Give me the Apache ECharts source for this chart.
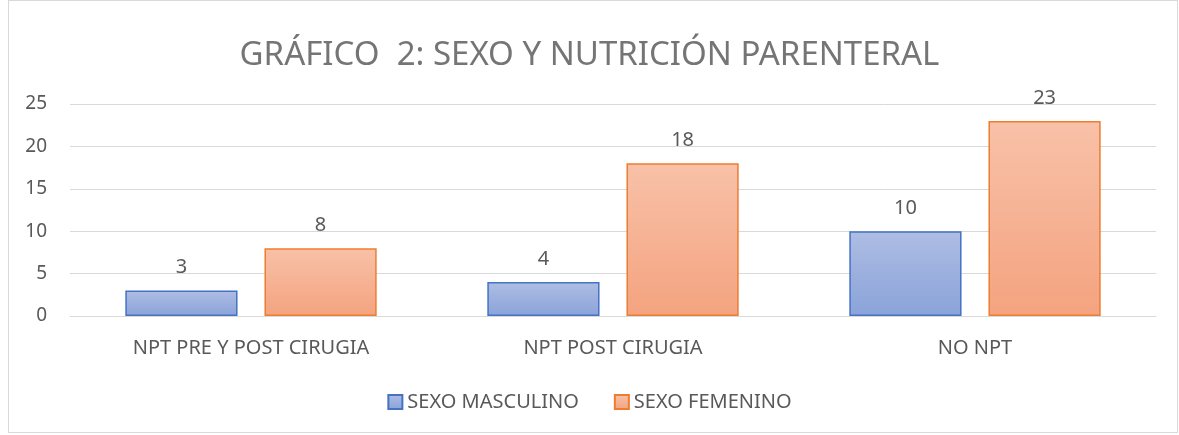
<!DOCTYPE html>
<html>
<head>
<meta charset="utf-8">
<script src="https://cdn.jsdelivr.net/npm/echarts@6/dist/echarts.min.js"></script>
<style>
  html, body { margin: 0; padding: 0; background: #fff; }
  #frame {
    position: absolute; left: 8px; top: 0px; width: 1170px; height: 433px;
    border: 1px solid #d9d9d9; box-sizing: border-box;
  }
  #chart { position: absolute; left: 0; top: 0; width: 1179px; height: 435px; }
</style>
</head>
<body>
<div id="frame"></div>
<div id="chart"></div>
<script>
const categories = ["NPT PRE Y POST CIRUGIA", "NPT POST CIRUGIA", "NO NPT"];
const masculino = [3, 4, 10];
const femenino = [8, 18, 23];
const seriesNames = ["SEXO MASCULINO", "SEXO FEMENINO"];

const font = "Noto Sans";
const textGray = "#595959";

let chart = echarts.init(document.getElementById("chart"));

function grad(top, bottom) {
  return new echarts.graphic.LinearGradient(0, 0, 0, 1, [
    { offset: 0, color: top },
    { offset: 1, color: bottom }
  ]);
}

let option = {
  animation: false,
  title: {
    text: "GRÁFICO  2: SEXO Y NUTRICIÓN PARENTERAL",
    left: "center",
    top: 34,
    textStyle: { color: "#757575", fontSize: 33, fontWeight: "normal", fontFamily: font }
  },
  legend: {
    bottom: 18,
    left: "center",
    icon: "rect",
    itemWidth: 14,
    itemHeight: 14,
    itemGap: 35,
    textStyle: { color: textGray, fontSize: 20, fontFamily: font },
    data: seriesNames
  },
  grid: { left: 70, right: 23, top: 104, bottom: 119, containLabel: false },
  xAxis: {
    type: "category",
    data: categories,
    axisLine: { lineStyle: { color: "#d9d9d9", width: 1 } },
    axisTick: { show: false },
    axisLabel: { color: textGray, fontSize: 20, fontFamily: font, margin: 22 }
  },
  yAxis: {
    type: "value",
    min: 0,
    max: 25,
    interval: 5,
    axisLine: { show: false },
    axisTick: { show: false },
    splitLine: { lineStyle: { color: "#d9d9d9", width: 1 } },
    axisLabel: { color: textGray, fontSize: 19, fontFamily: font, margin: 23 }
  },
  series: [
    {
      name: seriesNames[0],
      type: "bar",
      data: masculino,
      barWidth: "31%",
      barGap: "24%",
      itemStyle: { color: grad("#aebde3", "#8aa3d9"), borderColor: "#4472c4", borderWidth: 1.5 },
      label: { show: true, position: "top", distance: 13, color: textGray, fontSize: 20, fontFamily: font }
    },
    {
      name: seriesNames[1],
      type: "bar",
      data: femenino,
      barWidth: "31%",
      itemStyle: { color: grad("#f8c1a8", "#f4a37f"), borderColor: "#ed7d31", borderWidth: 1.5 },
      label: { show: true, position: "top", distance: 13, color: textGray, fontSize: 20, fontFamily: font }
    }
  ]
};

chart.setOption(option);
</script>
</body>
</html>
